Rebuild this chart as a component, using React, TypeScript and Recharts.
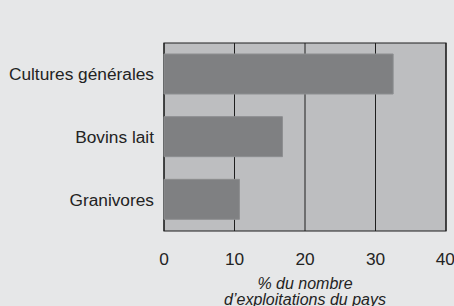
import React from 'react';
import { BarChart, Bar, XAxis, YAxis, CartesianGrid, ReferenceArea } from 'recharts';

const categories = ['Cultures générales', 'Bovins lait', 'Granivores'];
const shares = [32.5, 16.8, 10.7];
const xTicks = [0, 10, 20, 30, 40];
const axisTitle = ['% du nombre', 'd’exploitations du pays'];

const data = categories.map((name, i) => ({ name, value: shares[i] }));

const FONT = '"Liberation Sans", Arial, sans-serif';
const TEXT = '#232323';

function AxisTitle(props: any) {
  const { viewBox } = props;
  const cx = viewBox.x + viewBox.width / 2;
  return (
    <text x={cx} textAnchor="middle" fill={TEXT} fontSize={16} fontStyle="italic" fontFamily={FONT}>
      <tspan x={cx} y={288.5}>{axisTitle[0]}</tspan>
      <tspan x={cx} y={304.5}>{axisTitle[1]}</tspan>
    </text>
  );
}

export default function App() {
  return (
    <div style={{ position: 'absolute', top: 0, left: 0, width: 454, height: 306, background: '#e6e7e8' }}>
      <BarChart
        width={454}
        height={306}
        data={data}
        layout="vertical"
        margin={{ top: 43, right: 8, bottom: 0, left: 0 }}
        style={{ fontFamily: FONT }}
      >
        <CartesianGrid
          horizontal={false}
          stroke="#1e1e1e"
          strokeOpacity={1}
          fill="#bdbec0"
          fillOpacity={1}
        />
        <XAxis
          type="number"
          domain={[0, 40]}
          ticks={xTicks}
          axisLine={false}
          tickLine={false}
          tickSize={6}
          tickMargin={16}
          height={75}
          tick={{ fill: TEXT, fontSize: 17.3 }}
          label={<AxisTitle />}
        />
        <YAxis
          type="category"
          dataKey="name"
          width={164}
          axisLine={false}
          tickLine={false}
          tickSize={6}
          tickMargin={4}
          tick={{ fill: TEXT, fontSize: 17.3 }}
        />
        <Bar dataKey="value" fill="#7f8082" stroke="#8d8e90" strokeWidth={1} barSize={40} isAnimationActive={false} />
        <ReferenceArea x1={0} x2={40} fill="none" stroke="#1e1e1e" strokeWidth={1.2} />
      </BarChart>
    </div>
  );
}
